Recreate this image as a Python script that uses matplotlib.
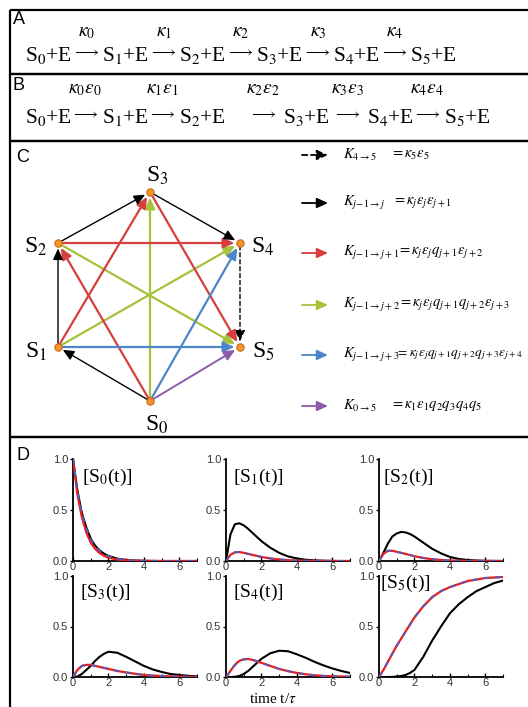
import numpy as np
import matplotlib
matplotlib.use("Agg")
import matplotlib.pyplot as plt
from matplotlib.patches import Rectangle
from matplotlib.ticker import FormatStrFormatter, MultipleLocator

plt.rcParams["mathtext.fontset"] = "stix"
plt.rcParams["font.family"] = ["Liberation Sans", "DejaVu Sans"]

W, H = 528, 707

# ---- panel A/B: reaction schemes
species = ["S$_0$+E", "S$_1$+E", "S$_2$+E", "S$_3$+E", "S$_4$+E", "S$_5$+E"]
rates_a = [r"$\kappa_0$", r"$\kappa_1$", r"$\kappa_2$", r"$\kappa_3$", r"$\kappa_4$"]
rates_b = [r"$\kappa_0\varepsilon_0$", r"$\kappa_1\varepsilon_1$", r"$\kappa_2\varepsilon_2$",
           r"$\kappa_3\varepsilon_3$", r"$\kappa_4\varepsilon_4$"]

# ---- panel C: network of states and legend
states = ["S$_0$", "S$_1$", "S$_2$", "S$_3$", "S$_4$", "S$_5$"]
edges_black = [(0, 1), (1, 2), (2, 3), (3, 4)]
edges_dashed = [(4, 5)]
edges_red = [(0, 2), (1, 3), (2, 4), (3, 5)]
edges_green = [(0, 3), (1, 4), (2, 5)]
edges_blue = [(0, 4), (1, 5)]
edges_purple = [(0, 5)]
legend_lhs = [r"$K_{4\rightarrow 5}$", r"$K_{j\!-\!1\rightarrow j}$", r"$K_{j\!-\!1\rightarrow j+1}$",
              r"$K_{j\!-\!1\rightarrow j+2}$", r"$K_{j\!-\!1\rightarrow j+3}$", r"$K_{0\rightarrow 5}$"]
legend_rhs = [r"$=\kappa_5\varepsilon_5$",
              r"$=\kappa_j\varepsilon_j\varepsilon_{j+1}$",
              r"$=\kappa_j\varepsilon_j q_{j+1}\varepsilon_{j+2}$",
              r"$=\kappa_j\varepsilon_j q_{j+1}q_{j+2}\varepsilon_{j+3}$",
              r"$=\kappa_j\varepsilon_j q_{j+1}q_{j+2}q_{j+3}\varepsilon_{j+4}$",
              r"$=\kappa_1\varepsilon_1 q_2 q_3 q_4 q_5$"]

# ---- panel D: kinetics
t = [0, 0.25, 0.5, 0.75, 1, 1.25, 1.5, 1.75, 2, 2.5, 3, 3.5, 4, 4.5, 5, 5.5, 6, 6.5, 7]
black_s0 = [1.0, .69, .47, .33, .22, .15, .105, .072, .05, .023, .011, .005, .002, .001, 0, 0, 0, 0, 0]
red_s0 = [1.0, .65, .43, .28, .18, .12, .078, .051, .033, .014, .006, .003, .001, 0, 0, 0, 0, 0, 0]
blue_s0 = [1.0, .68, .46, .32, .21, .145, .1, .068, .047, .021, .01, .004, .002, .001, 0, 0, 0, 0, 0]
black_s1 = [0, .26, .36, .37, .35, .315, .275, .235, .195, .13, .08, .045, .025, .012, .006, .003, .001, 0, 0]
red_s1 = [0, .06, .085, .088, .08, .07, .06, .05, .04, .025, .015, .008, .004, .002, .001, 0, 0, 0, 0]
black_s2 = [0, .08, .17, .24, .27, .285, .28, .265, .24, .18, .12, .075, .04, .02, .01, .005, .002, .001, 0]
red_s2 = [0, .07, .1, .1, .09, .08, .07, .058, .047, .03, .017, .01, .005, .003, .001, 0, 0, 0, 0]
black_s3 = [0, .005, .03, .07, .11, .16, .2, .23, .25, .24, .2, .155, .11, .075, .05, .03, .02, .012, .006]
red_s3 = [0, .07, .11, .12, .12, .11, .1, .09, .08, .06, .045, .032, .02, .014, .01, .006, .004, .002, .001]
black_s4 = [0, 0, .002, .01, .03, .06, .1, .14, .18, .235, .26, .255, .225, .19, .15, .115, .085, .06, .04]
red_s4 = [0, .06, .12, .16, .175, .178, .17, .155, .14, .11, .08, .058, .04, .027, .017, .011, .007, .005, .003]
black_s5 = [0, 0, 0, .001, .005, .01, .02, .04, .07, .2, .36, .5, .63, .72, .79, .85, .89, .93, .955]
red_s5 = [0, .07, .15, .23, .31, .38, .45, .52, .59, .7, .79, .85, .89, .92, .95, .965, .98, .985, .99]
kin_labels = ["[S$_0$(t)]", "[S$_1$(t)]", "[S$_2$(t)]", "[S$_3$(t)]", "[S$_4$(t)]", "[S$_5$(t)]"]
kin_black = [black_s0, black_s1, black_s2, black_s3, black_s4, black_s5]
kin_red = [red_s0, red_s1, red_s2, red_s3, red_s4, red_s5]
kin_blue = [blue_s0, red_s1, red_s2, red_s3, red_s4, red_s5]

SERIF = ["Liberation Serif", "DejaVu Serif"]
C_RED, C_GREEN, C_BLUE, C_PURPLE = "#d63f3d", "#a5c23a", "#4a86c8", "#8d5ca8"

fig = plt.figure(figsize=(W / 100, H / 100), dpi=100)
cv = fig.add_axes([0, 0, 1, 1])
cv.set_xlim(0, W)
cv.set_ylim(H, 0)
cv.axis("off")

# panel frames
for y0, y1 in [(10, 74), (74, 141), (141, 437), (437, 720)]:
    cv.add_patch(Rectangle((10, y0), 540, y1 - y0, fill=False, lw=1.6, ec="black"))
for lab, (x, y) in zip("ABCD", [(13, 19), (13, 86), (16, 157), (16, 456)]):
    cv.text(x, y, lab, fontsize=13, va="center", ha="left")

# A
for i, s in enumerate(species):
    cv.text(25 + 77 * i, 55, s, family=SERIF, fontsize=15.5, va="center", ha="left")
for i, r in enumerate(rates_a):
    xc = 86 + 77 * i
    cv.text(xc, 52, r"$\longrightarrow$", fontsize=11, va="center", ha="center")
    cv.text(xc + 1, 33, r, fontsize=14, va="center", ha="center")

# B
xs_b = [25, 102, 179, 283, 367, 444]
lab_b = [85, 162, 263, 347, 427]
for x, s in zip(xs_b, species):
    cv.text(x, 117, s, family=SERIF, fontsize=15.5, va="center", ha="left")
for xc, r in zip(lab_b, rates_b):
    cv.text(xc, 114, r"$\longrightarrow$", fontsize=11, va="center", ha="center")
    cv.text(xc, 90, r, fontsize=14, va="center", ha="center")

# C network
node_xy = [(150, 401), (58, 347), (58, 243), (150, 192), (240, 243), (240, 347)]
label_xy = [(157, 425), (36, 352), (36, 247), (157, 176), (263, 247), (263, 352)]


def draw_edges(edges, color, lw, ls="-"):
    for a, b in edges:
        cv.annotate("", xy=node_xy[b], xytext=node_xy[a],
                    arrowprops=dict(arrowstyle="-|>,head_length=0.55,head_width=0.25",
                                    color=color, lw=lw, ls=ls,
                                    shrinkA=2, shrinkB=4, mutation_scale=12), zorder=2)


draw_edges(edges_green, C_GREEN, 1.6)
draw_edges(edges_red, C_RED, 1.6)
draw_edges(edges_blue, C_BLUE, 1.6)
draw_edges(edges_purple, C_PURPLE, 1.4)
draw_edges(edges_black, "black", 1.0)
draw_edges(edges_dashed, "black", 1.0, ls=(0, (3, 2)))
cv.scatter([p[0] for p in node_xy], [p[1] for p in node_xy], s=28, c="#f39432",
           edgecolors="#d06a10", linewidths=0.8, zorder=5)
for s, (x, y) in zip(states, label_xy):
    cv.text(x, y, s, family=SERIF, fontsize=17, va="center", ha="center")

# C legend
leg_y = [155, 203, 253, 305, 355, 406]
leg_c = ["black", "black", C_RED, C_GREEN, C_BLUE, C_PURPLE]
leg_ls = [(0, (3, 2)), "-", "-", "-", "-", "-"]
eq_x = [390, 392, 397, 398, 396, 390]
eq_fs = [10.5, 10.5, 10.5, 10.5, 9.6, 10.5]
for y, c, ls, lhs, rhs, ex, fs in zip(leg_y, leg_c, leg_ls, legend_lhs, legend_rhs, eq_x, eq_fs):
    cv.annotate("", xy=(328, y), xytext=(302, y),
                arrowprops=dict(arrowstyle="-|>,head_length=0.55,head_width=0.25",
                                color=c, lw=1.3, ls=ls, shrinkA=0, shrinkB=0,
                                mutation_scale=12))
    cv.text(343, y, lhs, fontsize=10.5, va="center", ha="left")
    cv.text(ex, y, rhs, fontsize=fs, va="center", ha="left")

# D kinetics
cols = [73, 226, 379]
rows = [(459, 561), (576, 677)]
label_pos = [(0.5, 0.82), (0.4, 0.82), (0.25, 0.82), (0.4, 0.84), (0.4, 0.84), (0.05, 0.93)]
for k in range(6):
    r, c = divmod(k, 3)
    top, bot = rows[r]
    ax = fig.add_axes([cols[c] / W, 1 - bot / H, 124 / W, (bot - top) / H])
    ax.plot(t, kin_black[k], color="black", lw=1.5, zorder=3)
    ax.plot(t, kin_red[k], color="#ee1c1c", lw=1.6, zorder=4)
    ax.plot(t, kin_blue[k], color="#5a5ab4", lw=1.4, ls=(0, (3, 3)), zorder=5)
    ax.set_xlim(0, 7)
    ax.set_ylim(0, 1)
    ax.set_xticks([0, 2, 4, 6])
    ax.xaxis.set_minor_locator(MultipleLocator(1))
    ax.set_yticks([0, 0.5, 1.0])
    ax.yaxis.set_major_formatter(FormatStrFormatter("%.1f"))
    for side in ["top", "right"]:
        ax.spines[side].set_visible(False)
    for side in ["left", "bottom"]:
        ax.spines[side].set_linewidth(1.3)
    ax.tick_params(axis="x", direction="in", length=3, width=1, labelsize=8, pad=1,
                   labelcolor="#333333")
    ax.tick_params(axis="x", which="minor", direction="in", length=2, width=0.8)
    ax.tick_params(axis="y", direction="out", length=2.5, width=1, labelsize=8, pad=1,
                   labelcolor="#333333")
    ax.patch.set_alpha(0)
    ax.text(label_pos[k][0], label_pos[k][1], kin_labels[k], family=SERIF, fontsize=14,
            va="center", ha="left", transform=ax.transData)

cv.text(273, 699, r"time t/$\tau$", family=SERIF, fontsize=11, ha="center", va="center")

fig.savefig("out.png", dpi=100)
